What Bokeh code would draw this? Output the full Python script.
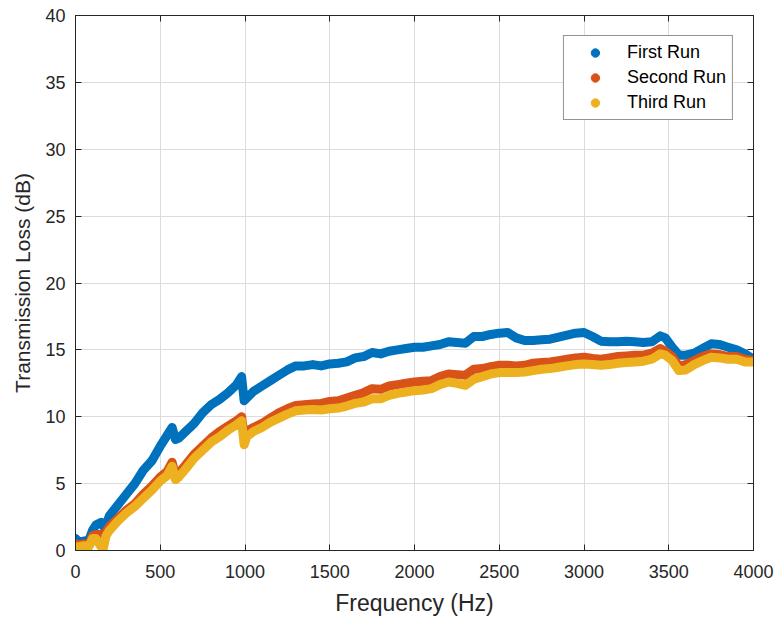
from bokeh.plotting import figure
from bokeh.models import LinearAxis, Range1d, FixedTicker, Legend, LegendItem
from bokeh.embed import file_html
from bokeh.resources import INLINE

freq = [0, 25, 50, 80, 100, 120, 150, 165, 180, 200,
        250, 300, 350, 400, 450, 500, 540, 570, 590, 610,
        650, 700, 750, 800, 850, 900, 950, 980, 995, 1010,
        1050, 1100, 1150, 1200, 1250, 1300, 1350, 1400, 1450, 1500,
        1550, 1600, 1650, 1700, 1750, 1800, 1850, 1900, 1950, 2000,
        2050, 2100, 2150, 2200, 2250, 2300, 2350, 2400, 2450, 2500,
        2550, 2600, 2650, 2700, 2750, 2800, 2850, 2900, 2950, 3000,
        3050, 3100, 3150, 3200, 3250, 3300, 3350, 3400, 3450, 3480,
        3520, 3560, 3600, 3650, 3700, 3750, 3800, 3850, 3900, 3950,
        4000]

first_run = [0.9, 0.6, 0.7, 0.8, 1.5, 1.9, 2.1, 1.8, 1.9, 2.6,
             3.4, 4.2, 5.0, 6.0, 6.7, 7.8, 8.6, 9.2, 8.3, 8.4,
             8.9, 9.5, 10.3, 10.9, 11.3, 11.8, 12.4, 13.0, 11.2, 11.4,
             11.9, 12.3, 12.7, 13.1, 13.5, 13.8, 13.8, 13.9, 13.8, 13.95,
             14.0, 14.1, 14.4, 14.5, 14.8, 14.7, 14.9, 15.0, 15.1, 15.2,
             15.2, 15.3, 15.4, 15.6, 15.55, 15.5, 16.0, 16.0, 16.15, 16.25,
             16.3, 15.9, 15.7, 15.7, 15.75, 15.8, 15.95, 16.1, 16.25, 16.3,
             16.0, 15.65, 15.6, 15.6, 15.65, 15.6, 15.55, 15.6, 16.05, 15.9,
             15.2, 14.6, 14.6, 14.75, 15.1, 15.45, 15.4, 15.2, 15.0, 14.7,
             14.3]

second_run = [0.5, 0.4, 0.5, 0.4, 1.1, 1.2, 1.2, 1.2, 1.4, 1.8,
              2.4, 3.0, 3.5, 4.2, 4.8, 5.5, 5.9, 6.6, 5.6, 5.8,
              6.4, 7.2, 7.8, 8.4, 8.9, 9.3, 9.7, 10.0, 8.6, 8.9,
              9.2, 9.5, 9.9, 10.3, 10.6, 10.85, 10.9, 10.95, 11.0, 11.15,
              11.2, 11.4, 11.6, 11.8, 12.1, 12.05, 12.3, 12.4, 12.5, 12.6,
              12.65, 12.7, 13.0, 13.2, 13.15, 13.1, 13.55, 13.6, 13.75, 13.85,
              13.85, 13.8, 13.85, 14.0, 14.05, 14.1, 14.2, 14.3, 14.4, 14.45,
              14.35, 14.3, 14.4, 14.5, 14.55, 14.6, 14.6, 14.75, 15.1, 14.9,
              14.5, 13.8, 13.9, 14.2, 14.5, 14.7, 14.65, 14.5, 14.5, 14.3,
              14.2]

third_run = [0.25, 0.3, 0.35, 0.3, 0.9, 0.9, 0.3, 0.2, 1.1, 1.5,
             2.2, 2.8, 3.3, 3.9, 4.5, 5.2, 5.6, 6.3, 5.3, 5.5,
             6.1, 6.9, 7.5, 8.1, 8.5, 9.0, 9.4, 9.7, 7.9, 8.5,
             8.9, 9.2, 9.6, 9.9, 10.2, 10.45, 10.5, 10.55, 10.5, 10.6,
             10.65, 10.8, 11.0, 11.1, 11.35, 11.35, 11.6, 11.75, 11.85, 11.95,
             12.0, 12.1, 12.4, 12.6, 12.5, 12.35, 12.8, 13.0, 13.2, 13.3,
             13.3, 13.3, 13.35, 13.45, 13.55, 13.6, 13.7, 13.8, 13.9, 13.95,
             13.9, 13.85, 13.9, 14.0, 14.05, 14.1, 14.15, 14.3, 14.7, 14.6,
             14.2, 13.45, 13.5, 13.9, 14.2, 14.45, 14.4, 14.3, 14.3, 14.1,
             14.1]

series_names = ["First Run", "Second Run", "Third Run"]
x_ticks = [0, 500, 1000, 1500, 2000, 2500, 3000, 3500, 4000]
y_ticks = [0, 5, 10, 15, 20, 25, 30, 35, 40]

colors = ["#0072BD", "#D95319", "#EDB120"]
FONT = "Liberation Sans"
TXT = "#262626"

p = figure(width=778, height=622, output_backend="svg", toolbar_location=None,
           x_range=Range1d(0, 4000), y_range=Range1d(0, 40),
           min_border_left=75, min_border_right=25, min_border_top=15, min_border_bottom=72)
p.outline_line_color = TXT
p.outline_line_width = 1
p.background_fill_color = "white"
p.border_fill_color = "white"

for ax in (p.xaxis[0], p.yaxis[0]):
    ax.major_tick_in = 6
    ax.major_tick_out = 0
    ax.minor_tick_line_color = None
    ax.axis_line_color = TXT
    ax.major_tick_line_color = TXT
    ax.major_label_text_font = FONT
    ax.major_label_text_font_size = "18px"
    ax.major_label_text_color = TXT
    ax.axis_label_text_font = FONT
    ax.axis_label_text_font_style = "normal"
    ax.axis_label_text_color = TXT

p.xaxis[0].ticker = FixedTicker(ticks=x_ticks)
p.yaxis[0].ticker = FixedTicker(ticks=y_ticks)
p.xaxis[0].axis_label = "Frequency (Hz)"
p.yaxis[0].axis_label = "Transmission Loss (dB)"
p.xaxis[0].axis_label_text_font_size = "23px"
p.yaxis[0].axis_label_text_font_size = "21px"
p.xaxis[0].major_label_standoff = 14
p.yaxis[0].major_label_standoff = 10
p.xaxis[0].axis_label_standoff = 9
p.yaxis[0].axis_label_standoff = 8

for loc, tk in (("right", y_ticks), ("above", x_ticks)):
    a = LinearAxis(ticker=FixedTicker(ticks=tk))
    a.major_tick_in = 6
    a.major_tick_out = 0
    a.minor_tick_line_color = None
    a.axis_line_color = TXT
    a.major_tick_line_color = TXT
    a.major_label_text_font_size = "0px"
    a.major_label_text_color = None
    a.major_label_standoff = 0
    p.add_layout(a, loc)

p.xgrid.ticker = FixedTicker(ticks=x_ticks)
p.ygrid.ticker = FixedTicker(ticks=y_ticks)
p.grid.grid_line_color = "#dcdcdc"
p.grid.grid_line_width = 1

items = []
for name, ys, c in zip(series_names, [first_run, second_run, third_run], colors):
    p.line(freq, ys, line_color=c, line_width=9, line_join="round", line_cap="round")
    r = p.scatter(freq, ys, size=7, fill_color=c, line_color=c)
    items.append(LegendItem(label=name, renderers=[r]))

leg = Legend(items=items, location="top_right")
leg.margin = 20
leg.padding = 6
leg.spacing = 4
leg.glyph_width = 50
leg.glyph_height = 21
leg.label_height = 21
leg.label_standoff = 7
leg.label_text_font = FONT
leg.label_text_font_size = "18px"
leg.label_text_color = "#000000"
leg.border_line_color = TXT
leg.border_line_width = 1
leg.background_fill_color = "white"
leg.background_fill_alpha = 1
p.add_layout(leg, "center")

open("out.html", "w").write(file_html(p, INLINE))
